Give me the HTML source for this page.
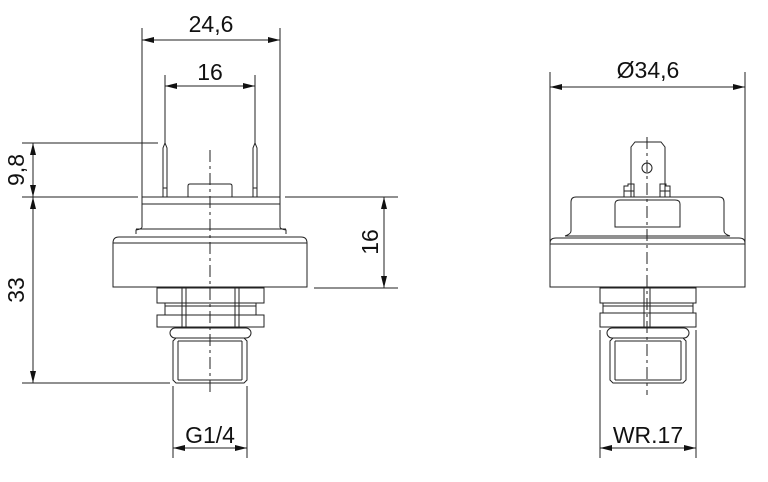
<!DOCTYPE html>
<html><head><meta charset="utf-8"><style>
html,body{margin:0;padding:0;background:#fff;}
svg{display:block}
text{font-family:"Liberation Sans",sans-serif;font-size:23px;fill:#111}
</style></head><body>
<svg width="768" height="482" viewBox="0 0 768 482" xmlns="http://www.w3.org/2000/svg">
<defs>
<marker id="a" viewBox="0 0 12 6" refX="12" refY="3" markerWidth="12" markerHeight="6" orient="auto-start-reverse" markerUnits="userSpaceOnUse"><path d="M0,0 L12,3 L0,6 z" fill="#111"/></marker>
</defs>
<g stroke="#222" stroke-width="1" fill="none">
<line x1="210" y1="150" x2="210" y2="395" stroke-dasharray="12,4,3,4"/>
<path d="M163,197 V148 L165,143 L167,148 V197"/>
<line x1="163" y1="188" x2="167" y2="188"/>
<path d="M253,197 V148 L255,143 L257,148 V197"/>
<line x1="253" y1="188" x2="257" y2="188"/>
<path d="M188,197 V186 Q188,184 190,184 H230 Q232,184 232,186 V197"/>
<path d="M142,197 V227 Q142,229 136,230 V234 M280,197 V227 Q280,229 286,230 V234"/>
<line x1="142" y1="197" x2="280" y2="197"/>
<line x1="142" y1="204" x2="280" y2="204"/>
<line x1="136" y1="229" x2="286" y2="229"/>
<line x1="128" y1="237" x2="294" y2="237"/>
<path d="M113,287 V243 Q113,237 119,237 H301 Q307,237 307,243 V287 Z"/>
<line x1="113" y1="243" x2="307" y2="243"/>
<rect x="157" y="288" width="107" height="15"/>
<rect x="165" y="303" width="91" height="12"/>
<line x1="165" y1="306" x2="256" y2="306"/>
<rect x="157" y="315" width="107" height="12"/>
<line x1="182" y1="288" x2="182" y2="327"/><line x1="186" y1="288" x2="186" y2="327"/>
<line x1="235" y1="288" x2="235" y2="327"/><line x1="239" y1="288" x2="239" y2="327"/>
<rect x="170" y="328" width="81" height="10" rx="5"/>
<path d="M176,338 H244 L247,341 V380 L244,383 H176 L173,380 V341 Z"/>
<line x1="178" y1="341" x2="178" y2="380"/><line x1="242" y1="341" x2="242" y2="380"/>
<line x1="178" y1="341" x2="242" y2="341"/><line x1="178" y1="380" x2="242" y2="380"/>
<line x1="142" y1="28" x2="142" y2="197"/>
<line x1="280" y1="28" x2="280" y2="197"/>
<line x1="142" y1="40" x2="280" y2="40" marker-start="url(#a)" marker-end="url(#a)"/>
<line x1="165" y1="75" x2="165" y2="143"/>
<line x1="255" y1="75" x2="255" y2="143"/>
<line x1="165" y1="86" x2="255" y2="86" marker-start="url(#a)" marker-end="url(#a)"/>
<line x1="22" y1="143" x2="158" y2="143"/>
<line x1="22" y1="197" x2="138" y2="197"/>
<line x1="285" y1="197" x2="398" y2="197"/>
<line x1="33" y1="143" x2="33" y2="197" marker-start="url(#a)" marker-end="url(#a)"/>
<line x1="33" y1="197" x2="33" y2="383" marker-start="url(#a)" marker-end="url(#a)"/>
<line x1="22" y1="383" x2="170" y2="383"/>
<line x1="314" y1="288" x2="398" y2="288"/>
<line x1="384" y1="197" x2="384" y2="288" marker-start="url(#a)" marker-end="url(#a)"/>
<line x1="173" y1="386" x2="173" y2="458"/>
<line x1="247" y1="386" x2="247" y2="458"/>
<line x1="173" y1="448" x2="247" y2="448" marker-start="url(#a)" marker-end="url(#a)"/>

<line x1="647" y1="137" x2="647" y2="395" stroke-dasharray="12,4,3,4"/>
<path d="M631,197 V147 L635,142 H661 L665,147 V197"/>
<circle cx="647" cy="168" r="5"/>
<path d="M624,197 V186 H628 V184 H634 V197 M670,197 V186 H666 V184 H660 V197"/>
<line x1="624" y1="191" x2="634" y2="191"/><line x1="660" y1="191" x2="670" y2="191"/>
<path d="M571,231 V202 Q571,197 576,197 H719 Q724,197 724,202 V231 Q724,234 730,236 M571,231 Q571,234 565,236"/>
<path d="M615,227 V204 Q615,200 620,200 H675 Q680,200 680,204 V227 Z"/>
<line x1="565" y1="236" x2="730" y2="236"/>
<path d="M550,287 V243 Q550,238 556,238 H739 Q745,238 745,243 V287 Z"/>
<line x1="550" y1="244" x2="745" y2="244"/>
<rect x="600" y="288" width="96" height="15"/>
<rect x="603" y="303" width="90" height="10"/>
<line x1="603" y1="306" x2="693" y2="306"/>
<rect x="600" y="313" width="96" height="14"/>
<line x1="644" y1="288" x2="644" y2="327"/><line x1="650" y1="288" x2="650" y2="327"/>
<rect x="607" y="328" width="82" height="10" rx="5"/>
<path d="M613,338 H683 L686,341 V380 L683,383 H613 L610,380 V341 Z"/>
<line x1="615" y1="341" x2="615" y2="380"/><line x1="681" y1="341" x2="681" y2="380"/>
<line x1="615" y1="341" x2="681" y2="341"/><line x1="615" y1="380" x2="681" y2="380"/>
<line x1="550" y1="72" x2="550" y2="287"/>
<line x1="745" y1="72" x2="745" y2="287"/>
<line x1="550" y1="87" x2="745" y2="87" marker-start="url(#a)" marker-end="url(#a)"/>
<line x1="600" y1="330" x2="600" y2="458"/>
<line x1="696" y1="330" x2="696" y2="458"/>
<line x1="600" y1="448" x2="696" y2="448" marker-start="url(#a)" marker-end="url(#a)"/>
</g>
<text x="211" y="32" text-anchor="middle">24,6</text>
<text x="210" y="80" text-anchor="middle">16</text>
<text x="210" y="443" text-anchor="middle">G1/4</text>
<text x="648" y="78" text-anchor="middle">Ø34,6</text>
<text x="648" y="443" text-anchor="middle">WR.17</text>
<text transform="translate(24,170) rotate(-90)" text-anchor="middle">9,8</text>
<text transform="translate(24,290) rotate(-90)" text-anchor="middle">33</text>
<text transform="translate(378,242) rotate(-90)" text-anchor="middle">16</text>
</svg>
</body></html>
